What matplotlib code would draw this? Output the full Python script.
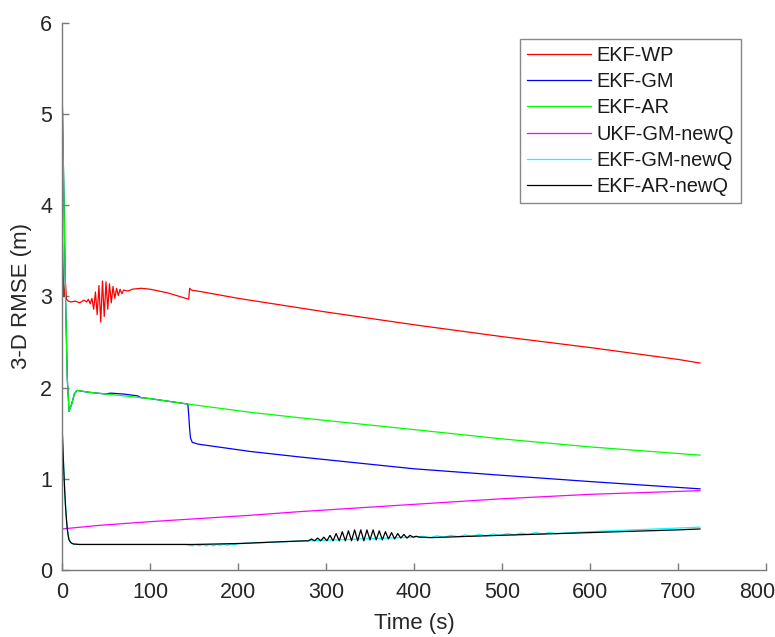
#!/usr/bin/env python3
"""3-D RMSE over time for the six filter variants (MATLAB-style figure)."""

import matplotlib
matplotlib.use('Agg')
import matplotlib.pyplot as plt
import matplotlib.transforms as mtransforms

plt.rcParams['font.family'] = ['Liberation Sans', 'DejaVu Sans']

# --- EKF-WP (red) ---
t_wp = [0, 1, 2, 3, 4, 5, 7, 10, 15, 20, 25, 28, 30, 32, 34, 36, 38, 40, 42, 44,
        46, 48, 50, 52, 54, 56, 58, 60, 62, 64, 66, 68, 70, 75, 80, 90, 100, 120,
        144, 145, 147, 160, 200, 300, 400, 500, 600, 700, 725]
rmse_wp = [4.30, 3.40, 3.00, 3.05, 3.14, 2.97, 2.95, 2.94, 2.95, 2.93, 2.96, 2.94,
           2.97, 2.92, 2.98, 2.86, 3.05, 2.80, 3.12, 2.72, 3.17, 2.78, 3.16, 2.86,
           3.14, 2.93, 3.11, 2.98, 3.09, 3.01, 3.08, 3.03, 3.07, 3.06, 3.08, 3.09,
           3.08, 3.04, 2.97, 3.09, 3.07, 3.05, 2.98, 2.83, 2.69, 2.56, 2.44, 2.31, 2.27]

# --- EKF-GM (blue) ---
t_gm = [0, 2, 4, 6, 8, 11, 14, 17, 30, 50, 55, 70, 86, 90, 100, 143, 144, 145, 146,
        148, 155, 214, 270, 400, 498, 600, 725]
rmse_gm = [5.35, 4.20, 3.00, 2.10, 1.74, 1.82, 1.93, 1.97, 1.95, 1.93, 1.94, 1.93,
           1.91, 1.89, 1.88, 1.82, 1.70, 1.55, 1.45, 1.40, 1.38, 1.30, 1.24, 1.11,
           1.04, 0.97, 0.89]

# --- EKF-AR (green) ---
t_ar = [0, 2, 4, 6, 8, 11, 14, 17, 30, 50, 100, 143, 214, 270, 400, 498, 600, 725]
rmse_ar = [5.35, 4.20, 3.00, 2.10, 1.74, 1.82, 1.93, 1.97, 1.95, 1.93, 1.88, 1.82,
           1.73, 1.67, 1.54, 1.44, 1.35, 1.26]

# --- UKF-GM-newQ (magenta) ---
t_ukf = [0, 43, 100, 214, 270, 400, 498, 600, 725]
rmse_ukf = [0.45, 0.49, 0.53, 0.60, 0.64, 0.72, 0.78, 0.83, 0.87]

# --- EKF-GM-newQ (cyan) ---
t_gmq = [0, 1, 2, 3, 4, 5, 6, 7, 8, 10, 13, 20, 100, 140, 148, 152, 156, 160, 164,
         168, 172, 176, 180, 184, 188, 192, 196, 200, 205, 250, 280, 340, 400, 410,
         418, 426, 434, 442, 450, 458, 466, 474, 482, 490, 498, 506, 514, 522, 530,
         538, 546, 554, 562, 600, 700, 725]
rmse_gmq = [1.60, 1.35, 1.10, 0.88, 0.70, 0.56, 0.45, 0.38, 0.33, 0.30, 0.285, 0.28,
            0.28, 0.28, 0.265, 0.28, 0.265, 0.28, 0.265, 0.28, 0.265, 0.28, 0.27,
            0.285, 0.27, 0.285, 0.275, 0.29, 0.29, 0.31, 0.32, 0.34, 0.36, 0.37,
            0.355, 0.375, 0.36, 0.38, 0.365, 0.385, 0.37, 0.39, 0.375, 0.395, 0.38,
            0.40, 0.385, 0.405, 0.39, 0.41, 0.395, 0.41, 0.40, 0.42, 0.46, 0.47]

# --- EKF-AR-newQ (black) ---
t_arq = [0, 1, 2, 3, 4, 5, 6, 7, 8, 10, 13, 20, 100, 150, 200, 250, 276,
         280, 283.5, 287, 290.5, 294, 297.5, 301, 304.5, 308, 311.5, 315, 318.5,
         322, 325.5, 329, 332.5, 336, 339.5, 343, 346.5, 350, 353.5, 357, 360.5,
         364, 367.5, 371, 374.5, 378, 381.5, 385, 388.5, 392, 395.5, 399, 402.5,
         406, 420, 450, 498, 600, 700, 725]
rmse_arq = [1.60, 1.35, 1.10, 0.88, 0.70, 0.56, 0.45, 0.38, 0.33, 0.30, 0.285, 0.28,
            0.28, 0.28, 0.29, 0.31, 0.32,
            0.32, 0.34, 0.32, 0.35, 0.32, 0.36, 0.32, 0.38, 0.32, 0.40, 0.32, 0.42,
            0.32, 0.43, 0.32, 0.44, 0.32, 0.44, 0.32, 0.44, 0.33, 0.44, 0.33, 0.43,
            0.33, 0.42, 0.34, 0.41, 0.34, 0.40, 0.35, 0.39, 0.35, 0.38, 0.36, 0.37,
            0.36, 0.355, 0.365, 0.38, 0.41, 0.44, 0.45]

series = [
    (t_wp, rmse_wp, '#ff0000', 'EKF-WP'),
    (t_gm, rmse_gm, '#0000ff', 'EKF-GM'),
    (t_ar, rmse_ar, '#00ff00', 'EKF-AR'),
    (t_ukf, rmse_ukf, '#ff00ff', 'UKF-GM-newQ'),
    (t_gmq, rmse_gmq, '#00ffff', 'EKF-GM-newQ'),
    (t_arq, rmse_arq, '#000000', 'EKF-AR-newQ'),
]

fig = plt.figure(figsize=(7.75, 6.37), dpi=100)
ax = fig.add_axes([0.080, 0.1052, 0.9084, 0.8587])

for t, y, color, label in series:
    ax.plot(t, y, color=color, linewidth=0.9, label=label)

ax.set_xlim(0, 800)
ax.set_ylim(0, 6)
ax.set_xticks(range(0, 801, 100))
ax.set_yticks(range(0, 7))

for side in ['top', 'right']:
    ax.spines[side].set_visible(False)
for side in ['left', 'bottom']:
    ax.spines[side].set_color('#7a7a7a')
    ax.spines[side].set_linewidth(1.0)

ax.tick_params(direction='in', length=5, width=1.0, color='#7a7a7a',
               labelsize=15.5, labelcolor='#262626')
ax.tick_params(axis='x', pad=9)
ax.tick_params(axis='y', pad=7)

# last x label sits against the figure edge; nudge it so it stays inside
last = ax.get_xticklabels()[-1]
last.set_transform(last.get_transform() +
                   mtransforms.ScaledTranslation(-0.09, 0, fig.dpi_scale_trans))

ax.set_xlabel('Time (s)', fontsize=16, color='#262626', labelpad=7)
ax.set_ylabel('3-D RMSE (m)', fontsize=16, color='#262626', labelpad=6)

leg = ax.legend(loc='upper right', bbox_to_anchor=(741 / 775, 1 - 39 / 637),
                bbox_transform=fig.transFigure, borderaxespad=0,
                fontsize=14.4, handlelength=3.2, handletextpad=0.3,
                labelspacing=0.36, borderpad=0.35, fancybox=False, framealpha=1)
leg.get_frame().set_edgecolor('#888888')
leg.get_frame().set_linewidth(1.0)
for txt in leg.get_texts():
    txt.set_color('#1a1a1a')

plt.savefig('out.png', dpi=100)
plt.close()
